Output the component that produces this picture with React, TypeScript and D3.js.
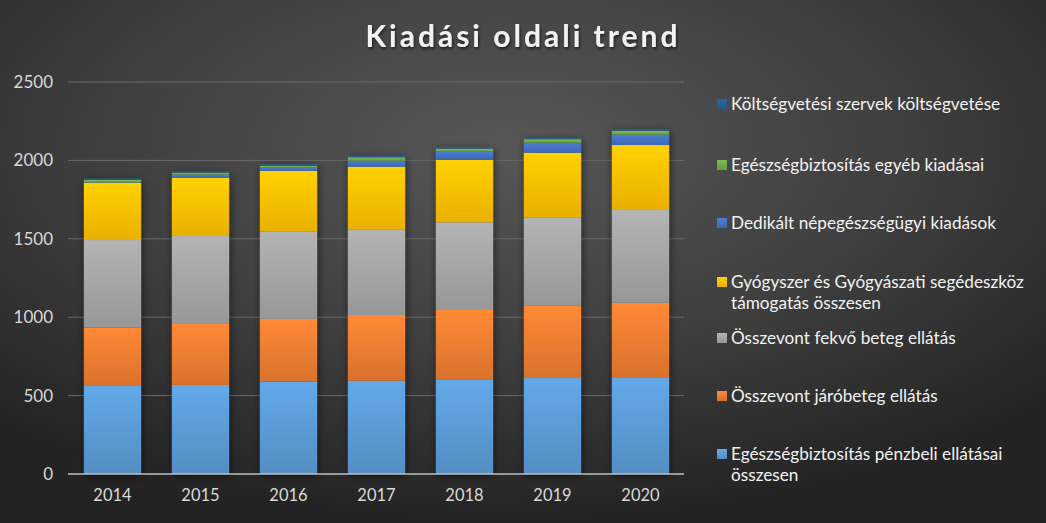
import React from "react";
import * as d3 from "d3";

const years = ["2014", "2015", "2016", "2017", "2018", "2019", "2020"];

const seriesKeys = [
  "Egészségbiztosítás pénzbeli ellátásai összesen",
  "Összevont járóbeteg ellátás",
  "Összevont fekvő beteg ellátás",
  "Gyógyszer és Gyógyászati segédeszköz támogatás összesen",
  "Dedikált népegészségügyi kiadások",
  "Egészségbiztosítás egyéb kiadásai",
  "Költségvetési szervek költségvetése",
];

const penzbeli = [561, 568, 589, 595, 600, 612, 617];
const jarobeteg = [374, 389, 400, 419, 446, 461, 475];
const fekvobeteg = [557, 561, 556, 547, 559, 564, 592];
const gyogyszer = [366, 370, 389, 399, 398, 412, 414];
const dedikalt = [3, 21, 20, 38, 53, 64, 66];
const egyeb = [15, 13, 12, 22, 19, 22, 25];
const koltsegvetesi = [8, 6, 9, 8, 8, 6, 9];

const seriesValues = [penzbeli, jarobeteg, fekvobeteg, gyogyszer, dedikalt, egyeb, koltsegvetesi];

const legendLines = [
  ["Egészségbiztosítás pénzbeli ellátásai", "összesen"],
  ["Összevont járóbeteg ellátás"],
  ["Összevont fekvő beteg ellátás"],
  ["Gyógyszer és Gyógyászati segédeszköz", "támogatás összesen"],
  ["Dedikált népegészségügyi kiadások"],
  ["Egészségbiztosítás egyéb kiadásai"],
  ["Költségvetési szervek költségvetése"],
];

const yTicks = [0, 500, 1000, 1500, 2000, 2500];

const colors = ["#5B9BD5", "#ED7D31", "#A5A5A5", "#FFC000", "#4472C4", "#70AD47", "#255E91"];

const W = 1046;
const H = 523;

export default function App() {
  const table = years.map((y, i) => {
    const row: any = { year: y };
    seriesKeys.forEach((k, j) => (row[k] = seriesValues[j][i]));
    return row;
  });
  const stacked = d3.stack<any>().keys(seriesKeys)(table);

  const x = d3.scaleBand().domain(years).range([68.5, 684.5]).paddingInner(0.35).paddingOuter(0.175);
  const y = d3.scaleLinear().domain([0, 2500]).range([474, 82]);

  const legendY = [460, 402, 344, 288, 229, 171, 110];
  const font = "Lato, 'Open Sans', sans-serif";

  return (
    <svg width={W} height={H} style={{ position: "absolute", left: 0, top: 0 }} fontFamily={font}>
      <defs>
        <radialGradient id="bg" cx="48%" cy="28%" r="72%" fx="48%" fy="28%">
          <stop offset="0%" stopColor="#575757" />
          <stop offset="55%" stopColor="#3e3e3e" />
          <stop offset="100%" stopColor="#232323" />
        </radialGradient>
        {colors.map((c, i) => {
          const base = d3.color(c)!;
          return (
            <linearGradient id={`g${i}`} key={i} x1="0" y1="0" x2="0" y2="1">
              <stop offset="0%" stopColor={base.brighter(0.25).formatHex()} />
              <stop offset="100%" stopColor={base.darker(0.25).formatHex()} />
            </linearGradient>
          );
        })}
        <filter id="shadow" x="-30%" y="-10%" width="160%" height="120%">
          <feDropShadow dx="1" dy="2" stdDeviation="4" floodColor="#000" floodOpacity="0.55" />
        </filter>
        <filter id="tshadow" x="-10%" y="-30%" width="120%" height="160%">
          <feDropShadow dx="1" dy="2" stdDeviation="1.5" floodColor="#000" floodOpacity="0.6" />
        </filter>
      </defs>
      <rect x={0} y={0} width={W} height={H} fill="url(#bg)" />

      <text
        x={523}
        y={47}
        textAnchor="middle"
        fill="#f2f2f2"
        fontSize={30}
        fontWeight="bold"
        letterSpacing={3}
        filter="url(#tshadow)"
      >
        Kiadási oldali trend
      </text>

      {yTicks.map((t) => (
        <g key={t}>
          {t > 0 && <line x1={68} x2={684} y1={y(t)} y2={y(t)} stroke="#6a6a6a" strokeWidth={1} />}
          <text x={53} y={y(t) + 6} textAnchor="end" fill="#d9d9d9" fontSize={17}>
            {t}
          </text>
        </g>
      ))}

      <g filter="url(#shadow)">
        {stacked.map((s, si) =>
          s.map((d, i) => (
            <rect
              key={`${si}-${i}`}
              x={x(years[i])}
              width={x.bandwidth()}
              y={y(d[1])}
              height={Math.max(0, y(d[0]) - y(d[1]))}
              fill={`url(#g${si})`}
            />
          ))
        )}
      </g>

      <line x1={68} x2={684} y1={y(0)} y2={y(0)} stroke="#bfbfbf" strokeWidth={1.5} />

      {years.map((yr) => (
        <text key={yr} x={x(yr)! + x.bandwidth() / 2} y={501} textAnchor="middle" fill="#d9d9d9" fontSize={16.5}>
          {yr}
        </text>
      ))}

      {legendLines.map((lines, i) => (
        <g key={i}>
          <rect x={717} y={legendY[i] - 11} width={10} height={10} fill={`url(#g${i})`} />
          {lines.map((ln, li) => (
            <text key={li} x={731} y={legendY[i] + li * 21} fill="#f2f2f2" fontSize={17.2}>
              {ln}
            </text>
          ))}
        </g>
      ))}
    </svg>
  );
}
